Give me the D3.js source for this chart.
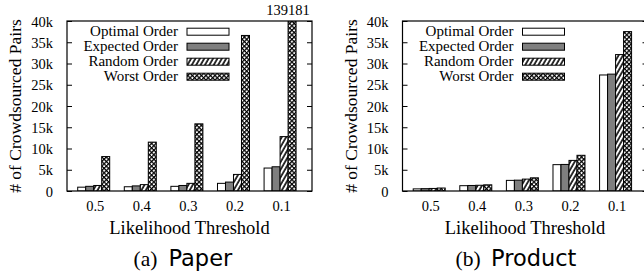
<!DOCTYPE html>
<html>
<head>
<meta charset="utf-8">
<script src="https://cdn.jsdelivr.net/npm/d3@7"></script>
<style>
  html, body { margin: 0; padding: 0; background: #fff; }
  svg { display: block; }
  .serif { font-family: "Liberation Serif", "Times New Roman", serif; fill: #000; }
  .sans { font-family: "DejaVu Sans", sans-serif; fill: #000; }
</style>
</head>
<body>
<svg id="chart" width="644" height="276"></svg>
<script>
// --- data ---
const thresholds = ["0.5", "0.4", "0.3", "0.2", "0.1"];
const seriesNames = ["Optimal Order", "Expected Order", "Random Order", "Worst Order"];
const yTicks = [0, 5000, 10000, 15000, 20000, 25000, 30000, 35000, 40000];

const paperOptimal  = [900, 1000, 1100, 1800, 5400];
const paperExpected = [1100, 1200, 1300, 2100, 5700];
const paperRandom   = [1300, 1500, 1800, 3900, 12800];
const paperWorst    = [8100, 11500, 15800, 36600, 139181];

const productOptimal  = [500, 1250, 2500, 6200, 27300];
const productExpected = [550, 1300, 2550, 6250, 27500];
const productRandom   = [600, 1350, 2800, 7200, 32100];
const productWorst    = [700, 1450, 3100, 8400, 37500];

const panels = [
  { left: 67, tag: "(a)", name: "Paper", tagX: 133.5, nameX: 168.5,
    series: [paperOptimal, paperExpected, paperRandom, paperWorst] },
  { left: 402.5, tag: "(b)", name: "Product", tagX: 455.5, nameX: 491,
    series: [productOptimal, productExpected, productRandom, productWorst] }
];

const svg = d3.select("#chart");
const W = 245, plotTop = 21, plotBottom = 191, yMax = 40000;
const barW = 8;

// patterns
const defs = svg.append("defs");
const hatch = defs.append("pattern").attr("id", "hatch")
  .attr("patternUnits", "userSpaceOnUse").attr("width", 3.8).attr("height", 10)
  .attr("patternTransform", "rotate(30)");
hatch.append("rect").attr("width", 3.8).attr("height", 10).attr("fill", "#fff");
hatch.append("line").attr("x1", 1).attr("x2", 1).attr("y1", 0).attr("y2", 10)
  .attr("stroke", "#000").attr("stroke-width", 1.6);

const cross = defs.append("pattern").attr("id", "cross")
  .attr("patternUnits", "userSpaceOnUse").attr("width", 3.2).attr("height", 3.2)
  .attr("patternTransform", "rotate(45)");
cross.append("rect").attr("width", 3.2).attr("height", 3.2).attr("fill", "#fff");
cross.append("path").attr("d", "M0,0.6H3.2M0.6,0V3.2")
  .attr("stroke", "#000").attr("stroke-width", 1.3);

const fills = ["#fff", "#7f7f7f", "url(#hatch)", "url(#cross)"];

panels.forEach((p, pi) => {
  const g = svg.append("g");
  const x = d3.scaleLinear().domain([-0.573, 4.685]).range([p.left, p.left + W]);
  const y = d3.scaleLinear().domain([0, yMax]).range([plotBottom, plotTop]);
  const clipId = "clip" + pi;
  defs.append("clipPath").attr("id", clipId)
    .append("rect").attr("x", p.left).attr("y", plotTop).attr("width", W).attr("height", plotBottom - plotTop);

  // bars
  const bars = g.append("g").attr("clip-path", `url(#${clipId})`);
  p.series.forEach((vals, si) => {
    bars.selectAll(null).data(vals).join("rect")
      .attr("x", (d, i) => x(i) + (si - 2) * barW)
      .attr("y", d => y(Math.min(d, yMax)))
      .attr("width", barW)
      .attr("height", d => plotBottom - y(Math.min(d, yMax)))
      .attr("fill", fills[si])
      .attr("stroke", "#000").attr("stroke-width", 1);
  });

  // values above the top of the frame
  p.series[3].forEach((d, i) => {
    if (d > yMax) {
      g.append("text").attr("class", "serif")
        .attr("x", x(i) + 8).attr("y", 15)
        .attr("text-anchor", "middle").attr("font-size", 14.5)
        .text(d);
    }
  });

  // frame
  g.append("rect").attr("x", p.left).attr("y", plotTop).attr("width", W).attr("height", plotBottom - plotTop)
    .attr("fill", "none").attr("stroke", "#000").attr("stroke-width", 1.2);

  // y axis ticks (inward, mirrored)
  const yAxisL = d3.axisLeft(y).tickValues(yTicks).tickSize(-5).tickPadding(14)
    .tickFormat(d => d === 0 ? "0" : (d / 1000) + "k");
  const ga = g.append("g").attr("transform", `translate(${p.left},0)`).call(yAxisL);
  ga.attr("font-family", null).attr("font-size", null);
  ga.select(".domain").remove();
  ga.selectAll("text").attr("class", "serif").attr("font-size", 14.5).attr("dy", "0.35em");
  ga.selectAll("line").attr("stroke", "#000");
  const yAxisR = d3.axisRight(y).tickValues(yTicks).tickSize(-5).tickFormat("");
  const gr = g.append("g").attr("transform", `translate(${p.left + W},0)`).call(yAxisR);
  gr.select(".domain").remove();
  gr.selectAll("line").attr("stroke", "#000");

  // x tick labels
  g.selectAll(null).data(thresholds).join("text").attr("class", "serif")
    .attr("x", (d, i) => x(i) + 1.5).attr("y", 211)
    .attr("text-anchor", "middle").attr("font-size", 14.5)
    .text(d => d);

  // axis titles
  g.append("text").attr("class", "serif")
    .attr("x", p.left + W / 2).attr("y", 234)
    .attr("text-anchor", "middle").attr("font-size", 18.5)
    .text("Likelihood Threshold");
  g.append("text").attr("class", "serif")
    .attr("transform", `translate(${p.left - 46},${(plotTop + plotBottom) / 2}) rotate(-90)`)
    .attr("text-anchor", "middle").attr("font-size", 17.5)
    .text("# of Crowdsourced Pairs");

  // legend
  seriesNames.forEach((name, si) => {
    const cy = 31.7 + si * 15;
    g.append("text").attr("class", "serif")
      .attr("x", p.left + 111).attr("y", cy + 4.5)
      .attr("text-anchor", "end").attr("font-size", 15)
      .text(name);
    g.append("rect")
      .attr("x", p.left + 120).attr("y", cy - 3.5).attr("width", 42).attr("height", 7)
      .attr("fill", fills[si]).attr("stroke", "#000").attr("stroke-width", 1);
  });

  // caption: serif tag, sans name
  g.append("text").attr("class", "serif")
    .attr("x", p.tagX).attr("y", 266).attr("font-size", 21.5)
    .text(p.tag);
  g.append("text").attr("class", "sans")
    .attr("x", p.nameX).attr("y", 266).attr("font-size", 22.5)
    .text(p.name);
});
</script>
</body>
</html>
